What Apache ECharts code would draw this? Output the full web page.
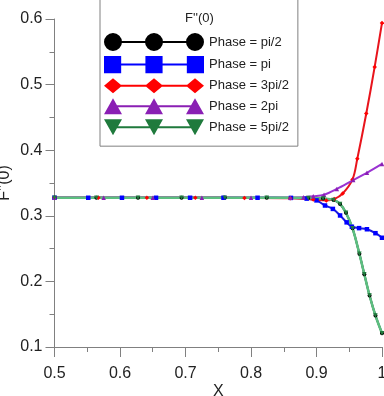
<!DOCTYPE html>
<html>
<head>
<meta charset="utf-8">
<script src="https://cdn.jsdelivr.net/npm/echarts@6/dist/echarts.min.js"></script>
<style>
  html, body { margin: 0; padding: 0; background: #fff; }
  #chart { width: 384px; height: 396px; }
</style>
</head>
<body>
<div id="chart"></div>
<script>
// F''(0) against X, one curve per phase, points as [x, F''(0)]
const xTicks = [0.5, 0.6, 0.7, 0.8, 0.9, 1.0];
const yTicks = [0.1, 0.2, 0.3, 0.4, 0.5, 0.6];
const seriesNames = ['Phase = pi/2', 'Phase = pi', 'Phase = 3pi/2', 'Phase = 2pi', 'Phase = 5pi/2'];

const phasePi2 = [[0.5, 0.3275], [0.564, 0.3275], [0.6275, 0.3275], [0.694, 0.3275], [0.76, 0.3275],
  [0.824, 0.3275], [0.8875, 0.3272], [0.91, 0.3262], [0.926, 0.3242], [0.936, 0.318], [0.945, 0.3045],
  [0.955, 0.281], [0.9655, 0.242], [0.973, 0.211], [0.981, 0.1785], [0.99, 0.148], [1.0, 0.121]];
const phasePi = [[0.5, 0.3275], [0.5515, 0.3275], [0.603, 0.3275], [0.655, 0.3275], [0.707, 0.3275],
  [0.758, 0.3275], [0.81, 0.3275], [0.861, 0.3273], [0.885, 0.3262], [0.9, 0.3235], [0.913, 0.3157],
  [0.925, 0.3105], [0.936, 0.3005], [0.946, 0.29], [0.954, 0.2833], [0.965, 0.2812], [0.977, 0.2795],
  [0.99, 0.2735], [1.0, 0.2665]];
const phase3pi2 = [[0.5, 0.3275], [0.567, 0.3275], [0.641, 0.3275], [0.715, 0.3275], [0.79, 0.3273],
  [0.86, 0.3268], [0.895, 0.3248], [0.915, 0.3235], [0.927, 0.3255], [0.94, 0.334], [0.955, 0.3555],
  [0.9623, 0.387], [0.976, 0.456], [0.9888, 0.527], [1.0, 0.594]];
const phase2pi = [[0.5, 0.3275], [0.575, 0.3275], [0.65, 0.3275], [0.725, 0.3275], [0.8, 0.3275],
  [0.86, 0.3277], [0.88, 0.3283], [0.895, 0.3298], [0.9115, 0.3322], [0.931, 0.341], [0.956, 0.3545],
  [0.977, 0.3655], [1.0, 0.379]];
const phase5pi2 = [[0.5, 0.3275], [0.564, 0.3275], [0.6275, 0.3275], [0.694, 0.3275], [0.76, 0.3275],
  [0.824, 0.3275], [0.8875, 0.3272], [0.91, 0.3262], [0.926, 0.3242], [0.936, 0.318], [0.945, 0.3045],
  [0.955, 0.281], [0.9655, 0.242], [0.973, 0.211], [0.981, 0.1785], [0.99, 0.148], [1.0, 0.121]];

const font = "'Liberation Sans', Arial, sans-serif";
const centers = [9, 50, 91]; // legend icon: three markers on a line, 100 x 18

// builds the legend icon path: one marker shape repeated 3 times + joining line bits
function legendPath(shape, inset) {
  let d = '';
  centers.forEach(c => { d += shape(c) + ' '; });
  for (let i = 0; i < centers.length - 1; i++) {
    const a = centers[i] + inset, b = centers[i + 1] - inset;
    d += `M${a} 8 L${b} 8 L${b} 10 L${a} 10 Z `;
  }
  return 'path://' + d.trim();
}
const circleIcon = legendPath(c => `M${c - 9} 9 A9 9 0 1 1 ${c + 9} 9 A9 9 0 1 1 ${c - 9} 9 Z`, 8.5);
const squareIcon = legendPath(c => `M${c - 8.5} 0.5 L${c + 8.5} 0.5 L${c + 8.5} 17.5 L${c - 8.5} 17.5 Z`, 8.5);
const diamondIcon = legendPath(c => `M${c - 9} 9 L${c} 1.5 L${c + 9} 9 L${c} 16.5 Z`, 7.5);
const triUpIcon = legendPath(c => `M${c - 9} 17 L${c} 1 L${c + 9} 17 Z`, 4);
const triDownIcon = legendPath(c => `M${c - 9} 1 L${c + 9} 1 L${c} 17 Z`, 4);

const styles = [
  { data: phasePi2, symbol: 'circle', size: 4, marker: '#000000', line: '#000000', width: 2, icon: circleIcon },
  { data: phasePi, symbol: 'rect', size: 4.5, marker: '#0000ff', line: '#1a1ae0', width: 2, icon: squareIcon },
  { data: phase3pi2, symbol: 'diamond', size: 4.5, marker: '#ff0000', line: '#e8141c', width: 2, icon: diamondIcon },
  { data: phase2pi, symbol: 'triangle', size: 4.5, marker: '#8a1fb4', line: '#9a32d2', width: 2, icon: triUpIcon },
  { data: phase5pi2, symbol: 'path://M0 0 L10 0 L5 9 Z', size: 4.5, marker: '#1f7a3c', line: '#5cbf80', width: 2.5, icon: triDownIcon }
];

const chart = echarts.init(document.getElementById('chart'), null, { renderer: 'canvas' });

const option = {
  animation: false,
  backgroundColor: '#ffffff',
  textStyle: { fontFamily: font },
  title: {
    text: "F''(0)",
    left: 185,
    top: 12,
    padding: 0,
    textStyle: { fontSize: 13, fontWeight: 'normal', color: '#222', fontFamily: font }
  },
  legend: {
    orient: 'vertical',
    left: 100,
    top: -1,
    padding: [34, 9, 11, 4],
    itemWidth: 100,
    itemHeight: 18,
    itemGap: 5,
    borderColor: '#808080',
    borderWidth: 1,
    selectedMode: false,
    symbolRotate: 0,
    itemStyle: { borderWidth: 0 },
    textStyle: { fontSize: 13, color: '#222', fontFamily: font },
    data: seriesNames.map((n, i) => ({ name: n, icon: styles[i].icon }))
  },
  grid: { left: 54.5, right: 2, top: 19, bottom: 49, containLabel: false, outerBoundsMode: 'none' },
  xAxis: {
    type: 'value',
    min: xTicks[0],
    max: xTicks[xTicks.length - 1],
    interval: 0.1,
    name: 'X',
    nameLocation: 'middle',
    nameGap: 37,
    nameMoveOverlap: false,
    nameTextStyle: { fontSize: 16, color: '#222', fontFamily: font },
    axisLine: { show: true, onZero: false, lineStyle: { color: '#808080', width: 1 } },
    axisTick: { show: true, length: 10, lineStyle: { color: '#808080' } },
    minorTick: { show: true, splitNumber: 2, length: 5, lineStyle: { color: '#808080' } },
    axisLabel: { fontSize: 16, color: '#222', margin: 19, fontFamily: font },
    splitLine: { show: false }
  },
  yAxis: {
    type: 'value',
    min: yTicks[0],
    max: yTicks[yTicks.length - 1],
    interval: 0.1,
    name: "F''(0)",
    nameLocation: 'middle',
    nameGap: 42,
    nameMoveOverlap: false,
    nameTextStyle: { fontSize: 16, color: '#222', fontFamily: font },
    axisLine: { show: true, onZero: false, lineStyle: { color: '#808080', width: 1 } },
    axisTick: { show: true, length: 9, lineStyle: { color: '#808080' } },
    minorTick: { show: true, splitNumber: 2, length: 5, lineStyle: { color: '#808080' } },
    axisLabel: { fontSize: 16, color: '#222', margin: 12, fontFamily: font },
    splitLine: { show: false }
  },
  series: styles.map((s, i) => ({
    name: seriesNames[i],
    type: 'line',
    data: s.data,
    smooth: 0.35,
    symbol: s.symbol,
    symbolSize: s.size,
    showSymbol: true,
    itemStyle: { color: s.marker },
    lineStyle: { color: s.line, width: s.width }
  }))
};

chart.setOption(option);
</script>
</body>
</html>
